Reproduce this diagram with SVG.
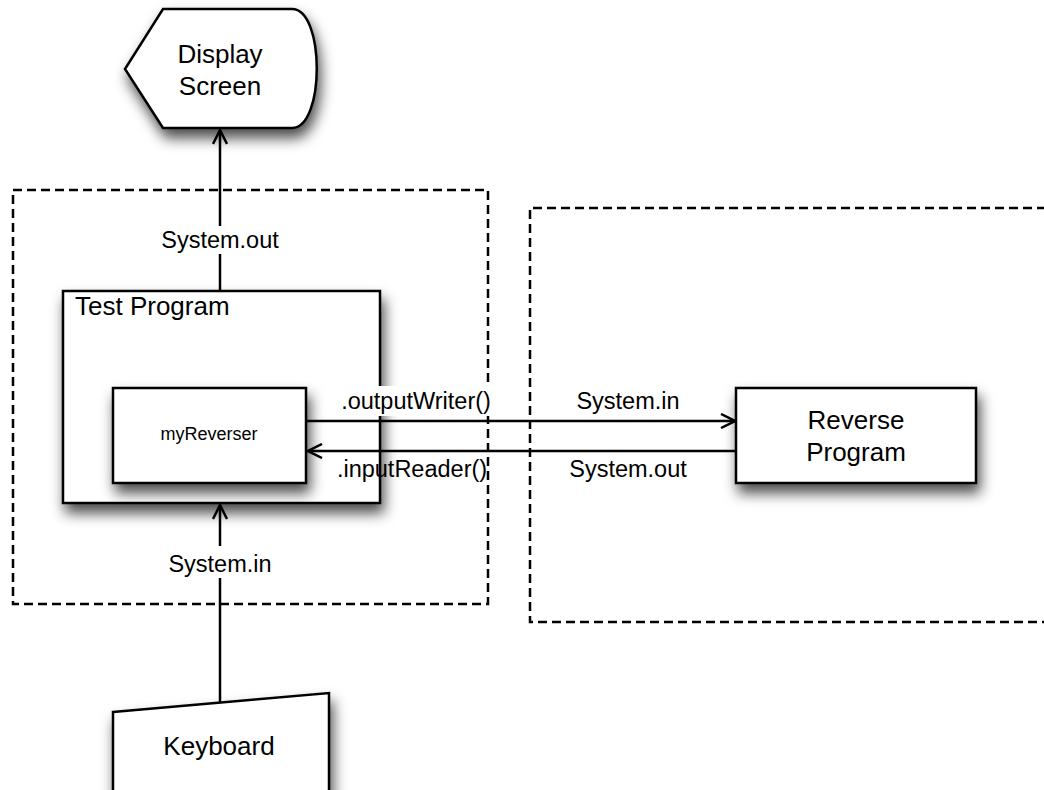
<svg xmlns="http://www.w3.org/2000/svg" width="1044" height="790" viewBox="0 0 1044 790">
<style>
.node{fill:#fff;stroke:#000;stroke-width:2.5;filter:url(#sh)}
.lbl{font-family:"Liberation Sans",Arial,sans-serif;font-size:26px;fill:#000;text-anchor:middle}
.elbl{font-family:"Liberation Sans",Arial,sans-serif;font-size:23.5px;fill:#000;text-anchor:middle}
.dash{fill:none;stroke:#000;stroke-width:2.5;stroke-dasharray:9,5}
.conn{fill:none;stroke:#000;stroke-width:2.5}
.bg{fill:#fff}
</style>
<defs>
<filter id="sh" x="-20%" y="-20%" width="150%" height="160%">
<feDropShadow dx="3" dy="9" stdDeviation="7" flood-color="#000" flood-opacity="0.7"/>
</filter>
<marker id="arr" viewBox="0 0 16 16" refX="15" refY="8" markerWidth="16" markerHeight="16" markerUnits="userSpaceOnUse" orient="auto">
<path d="M1,1 L15,8 L1,15" fill="none" stroke="#000" stroke-width="2.5"/>
</marker>
</defs>
<rect width="1044" height="790" fill="#fff"/>
<g id="boundaries">
<rect class="dash" x="13" y="190" width="475" height="414"/>
<path class="dash" d="M1046,208 L530,208 L530,622 L1046,622"/>
</g>
<g id="display-screen">
<path class="node" d="M163,9 L292,9 C325,9 325,128 292,128 L163,128 L125,69 Z"/>
<text class="lbl" x="220" y="63">Display</text>
<text class="lbl" x="220" y="95">Screen</text>
</g>
<g id="test-program">
<rect class="node" x="63" y="291" width="317" height="212"/>
<text class="lbl" x="75" y="315" style="text-anchor:start">Test Program</text>
</g>
<g id="my-reverser">
<rect class="node" x="113" y="388" width="193" height="95"/>
<text class="lbl" x="209" y="440" style="font-size:18px">myReverser</text>
</g>
<g id="reverse-program">
<rect class="node" x="736" y="388" width="240" height="95"/>
<text class="lbl" x="856" y="429">Reverse</text>
<text class="lbl" x="856" y="461">Program</text>
</g>
<g id="keyboard">
<path class="node" d="M113,712 L329,693 L329,800 L113,800 Z"/>
<text class="lbl" x="219" y="755">Keyboard</text>
</g>
<g id="connectors">
<line class="conn" x1="220" y1="291" x2="220" y2="130" marker-end="url(#arr)"/>
<rect class="bg" x="154" y="226" width="132" height="28"/>
<text class="elbl" x="220" y="248">System.out</text>
<line class="conn" x1="220" y1="702" x2="220" y2="505" marker-end="url(#arr)"/>
<rect class="bg" x="162" y="546" width="116" height="32"/>
<text class="elbl" x="220" y="572">System.in</text>
<line class="conn" x1="306" y1="421" x2="735" y2="421" marker-end="url(#arr)"/>
<line class="conn" x1="736" y1="451" x2="308" y2="451" marker-end="url(#arr)"/>
<rect class="bg" x="328" y="386" width="174" height="30"/>
<text class="elbl" x="416" y="409">.outputWriter()</text>
<text class="elbl" x="628" y="409">System.in</text>
<text class="elbl" x="412" y="477">.inputReader()</text>
<text class="elbl" x="628" y="477">System.out</text>
</g>
</svg>
